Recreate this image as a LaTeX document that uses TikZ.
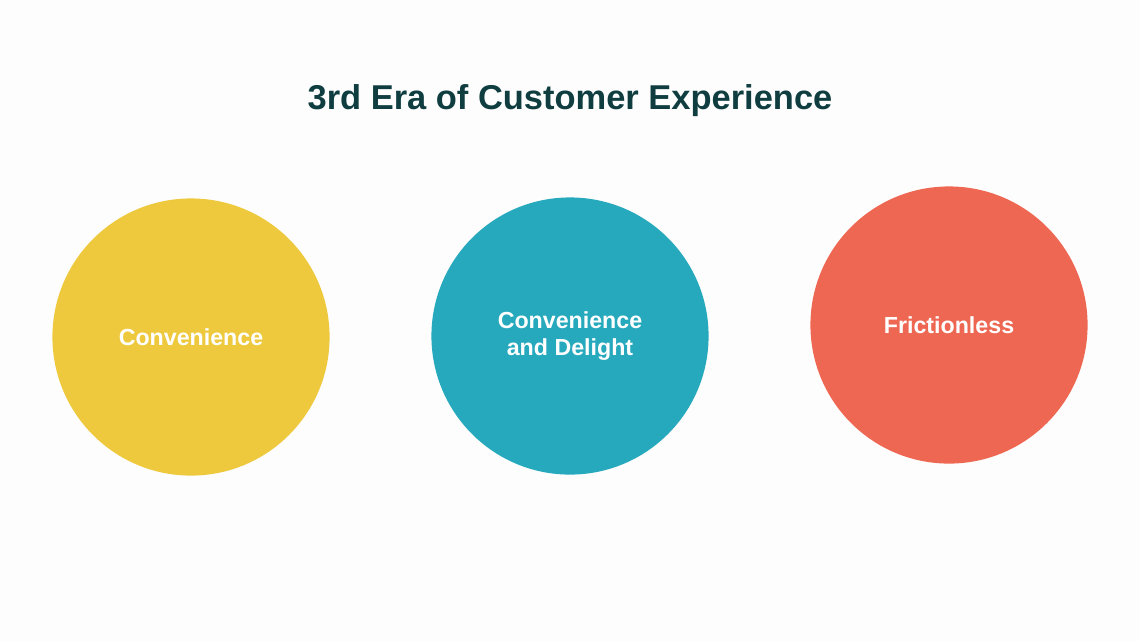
\documentclass[tikz,border=0pt]{standalone}
\usepackage{fontspec}
\setmainfont{Liberation Sans}
\usepackage{xcolor}
\definecolor{eraYellow}{HTML}{EEC93D}
\definecolor{eraTeal}{HTML}{26A9BD}
\definecolor{eraRed}{HTML}{EE6752}
\definecolor{eraTitle}{HTML}{0F3D40}
\definecolor{eraBack}{HTML}{FDFDFD}
\usetikzlibrary{positioning}

\begin{document}
\begin{tikzpicture}[x=0.01cm, y=-0.01cm]
    \tikzstyle{era-circle}=[circle, minimum size=2.77cm, inner sep=0pt, align=center, text=white, font=\fontsize{6.6}{7.6}\selectfont\bfseries]
    \tikzstyle{era-title}=[text=eraTitle, font=\fontsize{9.8}{11}\selectfont\bfseries]

    \fill[eraBack] (0,0) rectangle (1140,641);
    \useasboundingbox (0,0) rectangle (1140,641);

    \node[era-title] (title) at (570,101) {3rd Era of Customer Experience};

    \node[era-circle, fill=eraYellow] (convenience) at (191,337) {Convenience};
    \node[era-circle, fill=eraTeal] (delight) at (570,336) {Convenience\\and Delight};
    \node[era-circle, fill=eraRed] (frictionless) at (949,325) {Frictionless};
\end{tikzpicture}
\end{document}
